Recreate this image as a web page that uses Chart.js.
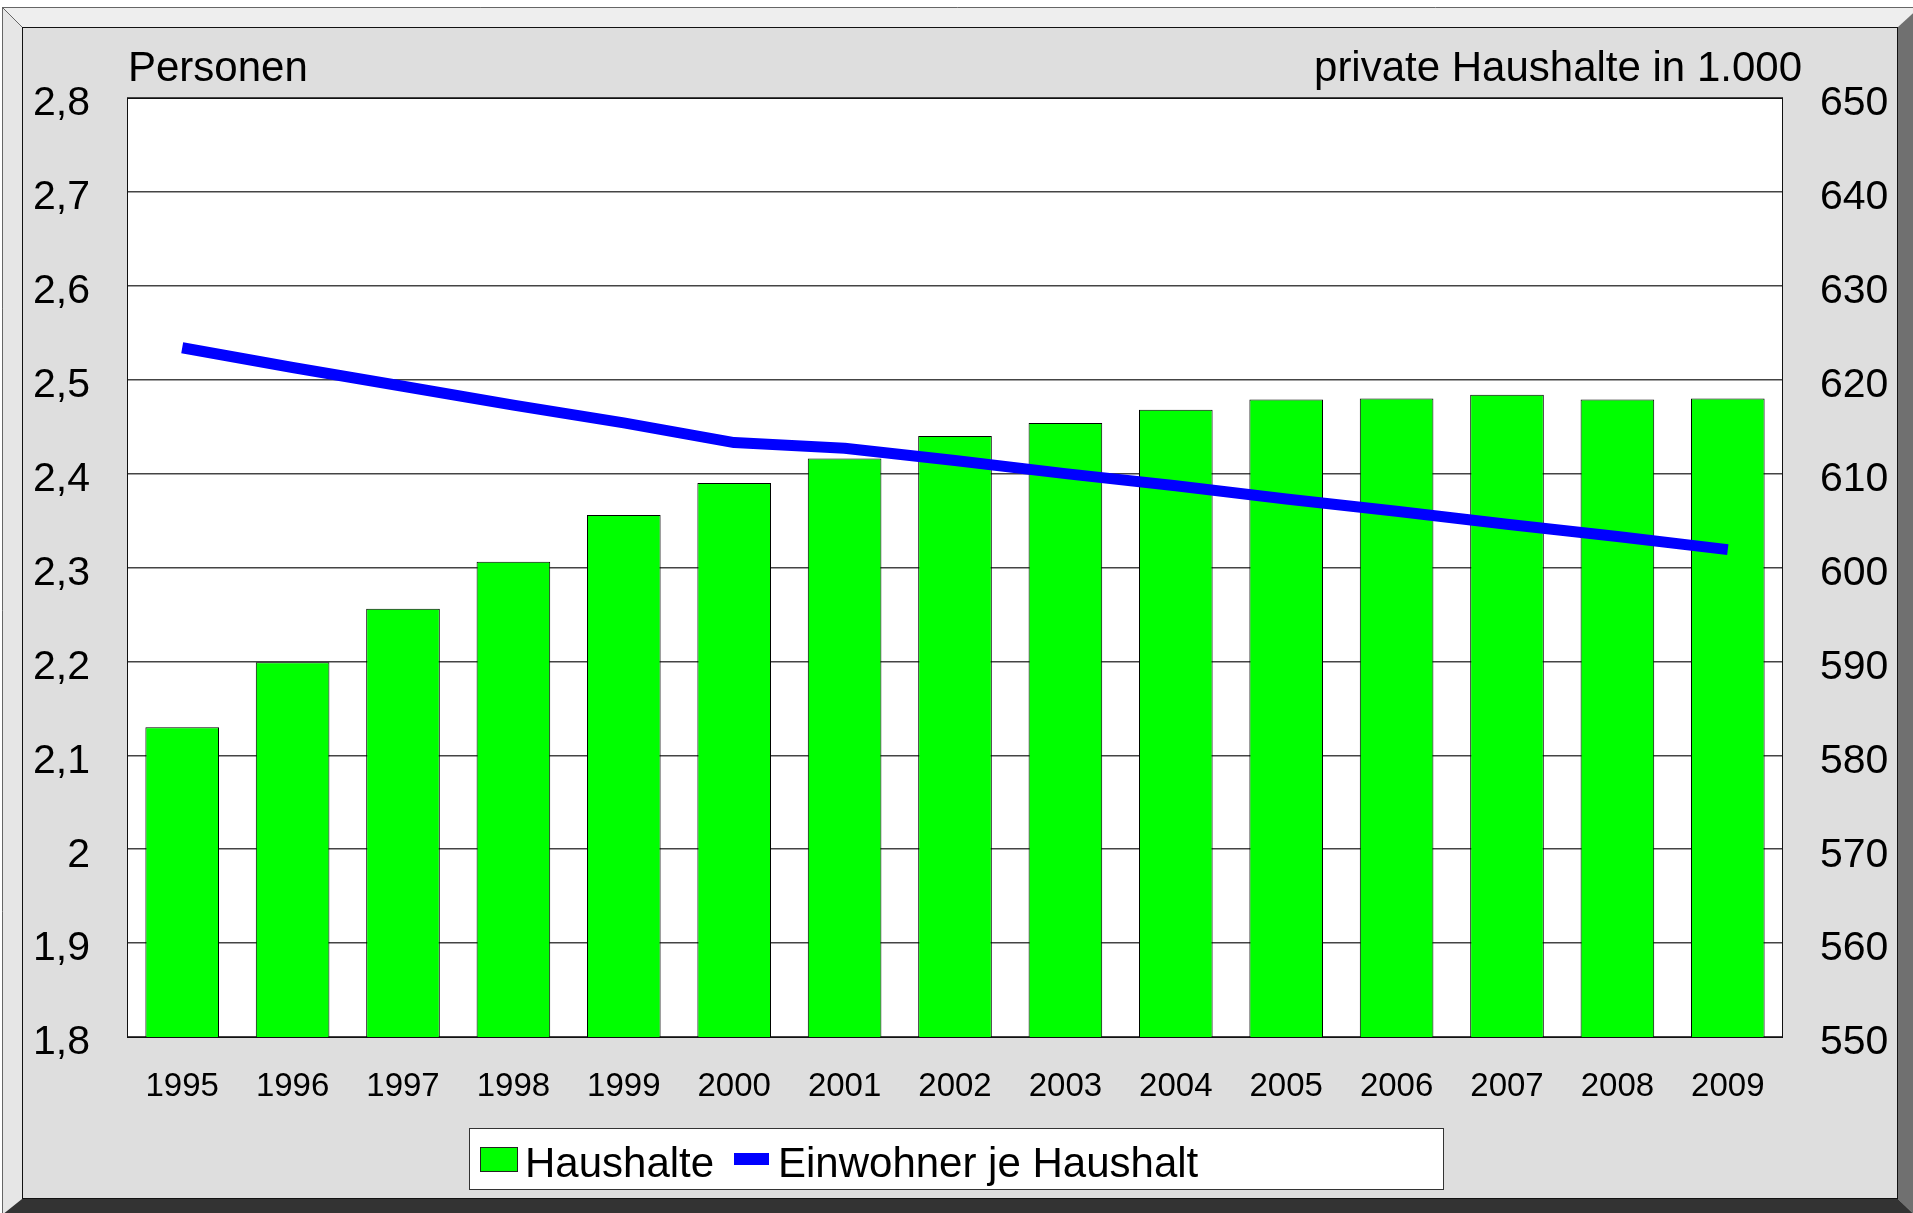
<!DOCTYPE html>
<html>
<head>
<meta charset="utf-8">
<script src="https://cdn.jsdelivr.net/npm/chart.js@4/dist/chart.umd.min.js"></script>
<style>
  body { margin: 0; background: #fff; }
  canvas { display: block; }
</style>
</head>
<body>
<canvas id="haushaltChart" width="1913" height="1213"></canvas>
<script>
const years = ['1995', '1996', '1997', '1998', '1999', '2000', '2001', '2002', '2003', '2004', '2005', '2006', '2007', '2008', '2009'];

// private Haushalte in 1.000 (right axis)
const haushalte = [583.0, 589.9, 595.6, 600.6, 605.6, 609.0, 611.6, 614.0, 615.4, 616.8, 617.9, 618.0, 618.4, 617.9, 618.0];

// Personen je Haushalt (left axis)
const einwohnerJeHaushalt = [2.534, 2.513, 2.493, 2.473, 2.454, 2.433, 2.427, 2.414, 2.400, 2.387, 2.373, 2.360, 2.346, 2.333, 2.319];

const leftAxis = { min: 1.8, max: 2.8, step: 0.1 };
const rightAxis = { min: 550, max: 650, step: 10 };

const FONT = 'Liberation Sans, Arial, sans-serif';

const ctx = document.getElementById('haushaltChart').getContext('2d');

// frame, plot background, titles and legend
const framePlugin = {
  id: 'frame',
  beforeDraw(chart) {
    const c = chart.ctx;
    const W = chart.width, H = chart.height;
    const o = { l: 2, t: 7, r: 1913, b: 1213 };
    const i = { l: 22, t: 27, r: 1898, b: 1199 };
    c.save();
    c.fillStyle = '#ffffff';
    c.fillRect(0, 0, W, H);

    function poly(pts, color) {
      c.beginPath();
      c.moveTo(pts[0][0], pts[0][1]);
      for (let k = 1; k < pts.length; k++) c.lineTo(pts[k][0], pts[k][1]);
      c.closePath();
      c.fillStyle = color;
      c.fill();
    }
    poly([[o.l, o.t], [o.r + 10, o.t], [i.r, i.t], [i.l, i.t]], '#eeeeee');   // top
    poly([[o.l, o.t], [i.l, i.t], [i.l, i.b], [o.l, o.b + 10]], '#e6e6e6');   // left
    poly([[o.r + 10, o.t - 3], [o.r + 10, o.b + 10], [i.r, i.b], [i.r, i.t]], '#707070'); // right
    poly([[o.l - 10, o.b + 10], [i.l, i.b], [i.r, i.b], [o.r + 10, o.b + 10]], '#333333'); // bottom

    c.strokeStyle = '#666';
    c.lineWidth = 1;
    c.beginPath();
    c.moveTo(o.l + 0.5, H);
    c.lineTo(o.l + 0.5, o.t + 0.5);
    c.lineTo(W, o.t + 0.5);
    c.stroke();
    c.beginPath();
    c.moveTo(o.l, o.t);
    c.lineTo(i.l, i.t);
    c.stroke();

    c.fillStyle = '#dedede';
    c.fillRect(i.l, i.t, i.r - i.l, i.b - i.t);
    c.strokeStyle = '#111';
    c.strokeRect(i.l + 0.5, i.t + 0.5, i.r - i.l - 1, i.b - i.t - 1);

    const a = chart.chartArea;
    c.fillStyle = '#ffffff';
    c.fillRect(a.left, a.top, a.right - a.left, a.bottom - a.top);
    c.restore();
  },
  afterDraw(chart) {
    const c = chart.ctx;
    const a = chart.chartArea;
    c.save();
    c.strokeStyle = '#111';
    c.lineWidth = 1;
    c.strokeRect(Math.round(a.left) + 0.5, Math.round(a.top) + 0.5, Math.round(a.right - a.left) - 1, Math.round(a.bottom - a.top));

    c.fillStyle = '#000';
    c.font = '42px ' + FONT;
    c.textBaseline = 'alphabetic';
    c.textAlign = 'left';
    c.fillText('Personen', 128, 81);
    c.textAlign = 'right';
    c.fillText('private Haushalte in 1.000', 1802, 81);

    // legend
    const bar = chart.data.datasets[1];
    const line = chart.data.datasets[0];
    c.fillStyle = '#ffffff';
    c.fillRect(469, 1128, 974, 61);
    c.strokeStyle = '#333';
    c.strokeRect(469.5, 1128.5, 974, 61);

    c.fillStyle = bar.backgroundColor;
    c.fillRect(480, 1147, 37, 24);
    c.strokeStyle = '#222';
    c.strokeRect(480.5, 1147.5, 37, 24);
    c.fillStyle = line.borderColor;
    c.fillRect(734, 1153, 35, 12);

    c.fillStyle = '#000';
    c.textAlign = 'left';
    c.font = '42px ' + FONT;
    c.fillText(bar.label, 525, 1177);
    c.fillText(line.label, 778, 1177);
    c.restore();
  }
};

const data = {
  labels: years,
  datasets: [{
    type: 'line',
    label: 'Einwohner je Haushalt',
    data: einwohnerJeHaushalt,
    yAxisID: 'y',
    borderColor: '#0000ff',
    backgroundColor: '#0000ff',
    borderWidth: 11,
    borderCapStyle: 'butt',
    borderJoinStyle: 'round',
    pointRadius: 0,
    tension: 0,
    order: 0
  }, {
    type: 'bar',
    label: 'Haushalte',
    data: haushalte,
    yAxisID: 'y1',
    backgroundColor: '#00ff00',
    borderColor: '#000000',
    borderWidth: 1,
    borderSkipped: false,
    barPercentage: 0.667,
    categoryPercentage: 1.0,
    order: 1
  }]
};

const config = {
  type: 'bar',
  data: data,
  options: {
    responsive: false,
    animation: false,
    layout: { padding: { top: 98, left: 0, right: 0, bottom: 0 } },
    plugins: {
      legend: { display: false },
      tooltip: { enabled: false }
    },
    scales: {
      x: {
        grid: { display: false, drawTicks: false },
        border: { display: false },
        ticks: { color: '#000', font: { family: FONT, size: 33 }, padding: 30, maxRotation: 0 },
        afterFit(s) { s.height = 176; }
      },
      y: {
        position: 'left',
        min: leftAxis.min,
        max: leftAxis.max,
        ticks: {
          stepSize: leftAxis.step,
          color: '#000',
          font: { family: FONT, size: 41 },
          padding: 37,
          labelOffset: 6,
          callback: (v) => String(Math.round(v * 10) / 10).replace('.', ',')
        },
        grid: { color: '#444', lineWidth: 1.5, drawTicks: false },
        border: { display: false },
        afterFit(s) { s.width = 127; }
      },
      y1: {
        position: 'right',
        min: rightAxis.min,
        max: rightAxis.max,
        ticks: {
          stepSize: rightAxis.step,
          color: '#000',
          font: { family: FONT, size: 41 },
          padding: 37,
          labelOffset: 6
        },
        grid: { display: false, drawTicks: false },
        border: { display: false },
        afterFit(s) { s.width = 130; }
      }
    }
  },
  plugins: [framePlugin]
};

const haushaltChart = new Chart(ctx, config);
</script>
</body>
</html>
